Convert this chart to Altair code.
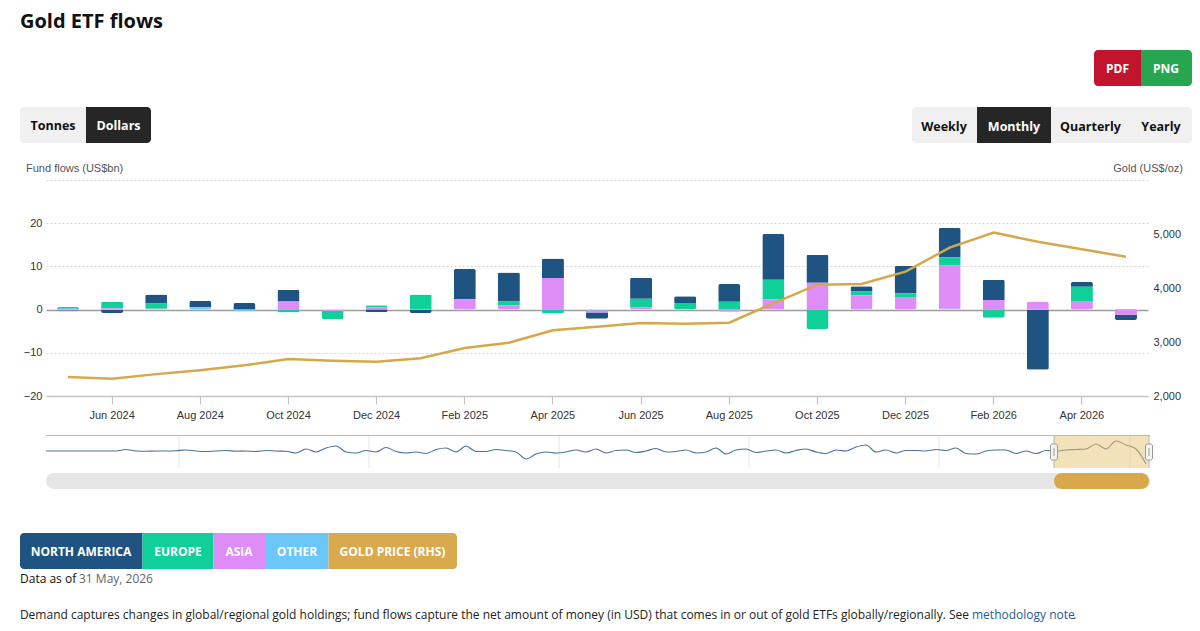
import altair as alt
import pandas as pd

# ---------------- data ----------------
months = ["May 2024", "Jun 2024", "Jul 2024", "Aug 2024", "Sep 2024", "Oct 2024",
          "Nov 2024", "Dec 2024", "Jan 2025", "Feb 2025", "Mar 2025", "Apr 2025",
          "May 2025", "Jun 2025", "Jul 2025", "Aug 2025", "Sep 2025", "Oct 2025",
          "Nov 2025", "Dec 2025", "Jan 2026", "Feb 2026", "Mar 2026", "Apr 2026",
          "May 2026"]
north_america = [-0.2, -0.7, 2.1, 1.4, 1.5, 2.7, 0.0, -0.6, -0.7, 7.0, 6.7, 4.5,
                 -1.4, 4.9, 1.6, 4.1, 10.6, 6.5, 1.2, 6.3, 6.8, 4.7, -13.8, 1.1, -1.2]
europe = [0.4, 1.5, 1.2, 0.1, 0.0, -0.7, -1.9, 0.5, 3.5, 0.0, 0.9, -0.9,
          0.0, 2.0, 1.5, 1.8, 4.5, -4.5, 0.9, 0.9, 1.9, -1.9, 0.0, 3.5, 0.0]
asia = [-0.2, 0.3, 0.2, 0.0, 0.0, 1.9, -0.3, 0.4, 0.0, 2.4, 1.0, 7.3,
        -0.5, 0.5, 0.0, -0.5, 2.3, 6.2, 3.3, 2.8, 10.0, 2.2, 1.8, 1.8, -1.2]
other = [0.2, -0.1, 0.0, 0.5, -0.4, 0.0, 0.0, 0.1, -0.1, 0.0, 0.0, 0.0,
         -0.2, 0.0, 0.0, 0.0, 0.1, 0.0, 0.0, 0.1, 0.2, 0.0, -0.1, 0.0, 0.15]
gold_price = [2352, 2320, 2405, 2475, 2568, 2685, 2654, 2636, 2698, 2889, 2988, 3216,
              3284, 3352, 3340, 3358, 3716, 4062, 4074, 4302, 4747, 5025, 4858, 4716, 4580]
x_tick_labels = ["Jun 2024", "Aug 2024", "Oct 2024", "Dec 2024", "Feb 2025", "Apr 2025",
                 "Jun 2025", "Aug 2025", "Oct 2025", "Dec 2025", "Feb 2026", "Apr 2026"]
left_ticks = [-20, -10, 0, 10, 20, 30]
right_ticks = [2000, 3000, 4000, 5000]

regions = ["North America", "Europe", "Asia", "Other"]
region_colors = ["#1f5381", "#10d09a", "#de8cf6", "#6bc7f9"]
stack_rank = [3, 2, 1, 0]

# navigator (full-history overview line, rough reading)
navigator = [0, 0, 0, 0, 0, 0, 0, 0, 1.5, 0, -0.3, 0, 0, 0.3, 1, 0, -0.5, 0, 0.5, -0.3,
             0, -0.5, 0.5, 0, -0.3, -2, 2, -1, 3, 5, -1, -2, 0.5, -1, 3.5, -0.5, -2, -1,
             -2.5, 1.5, 3, -1, 5, -0.5, -0.5, 1.5, 0.5, -1, -8, -3, -1, -2, -1, 1, -1, 2,
             -2, 0.5, 1, -1.5, 0, 2.5, -1, -0.5, 1, -2, -1, 3, -3, 1, 2, -1.5, 0, 1, -2,
             0.5, 2, -1, -2.5, 1, 0, 4, 6, -1, 1, -2, 0.5, 0.5, 0, 1.5, 0.5, 3, -2.5, -3,
             0, 1, 1, -2.5, 0, -2.5, 0.5, 0, 1, 1.5, 2, 7, 2, 10, 6, 2, -13]
navigator_years = [13.3, 32.3, 51.3, 70.3, 89.3, 108.4]

rows = []
for i, m in enumerate(months):
    for r, vals, rank in zip(regions, [north_america, europe, asia, other], stack_rank):
        rows.append({"month": m, "region": r, "flow": vals[i], "rank": rank})
flows = pd.DataFrame(rows)
gold = pd.DataFrame({"month": months, "gold": gold_price})
nav = pd.DataFrame({"idx": list(range(len(navigator))), "v": navigator})
nav_years = pd.DataFrame({"idx": navigator_years})
dummy = pd.DataFrame({"k": [0]})

# ---------------- layout helpers ----------------
OX, OY = 46, 180  # plot origin on the page
W, H = 1102, 216
CHART_FONT = "Liberation Sans"
PAGE_FONT = "Open Sans"


def box(x1, x2, y1, y2, color, **kw):
    return alt.Chart(dummy).mark_rect(color=color, **kw).encode(
        x=alt.value(x1 - OX), x2=alt.value(x2 - OX),
        y=alt.value(y1 - OY), y2=alt.value(y2 - OY))


def line(x1, x2, y1, y2, color, width=1):
    return alt.Chart(dummy).mark_rule(color=color, strokeWidth=width).encode(
        x=alt.value(x1 - OX), x2=alt.value(x2 - OX),
        y=alt.value(y1 - OY), y2=alt.value(y2 - OY))


def label(x, y, text, size=12, color="#222", weight="normal", align="left", font=PAGE_FONT):
    return alt.Chart(dummy).mark_text(
        text=text, fontSize=size, color=color, fontWeight=weight, align=align,
        baseline="alphabetic", font=font).encode(
        x=alt.value(x - OX), y=alt.value(y - OY))


# ---------------- main chart ----------------
zero_test = "datum.value === 0"
bars = alt.Chart(flows).mark_bar(cornerRadius=2).encode(
    x=alt.X("month:O", sort=months,
            scale=alt.Scale(paddingInner=0.5, paddingOuter=0.25),
            axis=alt.Axis(values=x_tick_labels, title=None, labelAngle=0,
                          labelFont=CHART_FONT, labelFontSize=11, labelColor="#333",
                          domainColor="#c4c4c4", domainWidth=1.5, tickColor="#c4c4c4",
                          tickSize=8, tickWidth=1.2, labelPadding=5, grid=False)),
    y=alt.Y("flow:Q", stack="zero",
            scale=alt.Scale(domain=[-20, 30], nice=False, zero=False),
            axis=alt.Axis(values=left_ticks, title=None,
                          labelExpr="datum.value >= 30 ? '' : datum.label",
                          labelFont=CHART_FONT, labelFontSize=11, labelColor="#333",
                          domain=False, ticks=False, labelPadding=4, grid=True,
                          gridColor={"condition": {"test": zero_test, "value": "#9c9c9c"},
                                     "value": "#d6d6d6"},
                          gridDash={"condition": {"test": zero_test, "value": []},
                                    "value": [2, 2]},
                          gridWidth={"condition": {"test": zero_test, "value": 1.6},
                                     "value": 1})),
    color=alt.Color("region:N", scale=alt.Scale(domain=regions, range=region_colors),
                    legend=None),
    order=alt.Order("rank:Q", sort="ascending"),
)

gold_line = alt.Chart(gold).mark_line(color="#d5a84b", strokeWidth=2.5).encode(
    x=alt.X("month:O", sort=months),
    y=alt.Y("gold:Q", scale=alt.Scale(domain=[2000, 6000], nice=False, zero=False),
            axis=alt.Axis(orient="right", values=right_ticks, title=None,
                          labelExpr="format(datum.value, ',')",
                          labelFont=CHART_FONT, labelFontSize=11, labelColor="#333",
                          domain=False, ticks=False, grid=False, labelPadding=5)),
)

main = alt.layer(bars, gold_line).resolve_scale(y="independent")

# ---------------- navigator ----------------
nav_x = alt.Scale(domain=[0, len(navigator) - 1], range=[0, 1100], nice=False, zero=False)
nav_grid = alt.Chart(nav_years).mark_rule(color="#e6e6e6", strokeWidth=1).encode(
    x=alt.X("idx:Q", scale=nav_x, axis=None),
    y=alt.value(436 - OY), y2=alt.value(468 - OY))
nav_line = alt.Chart(nav).mark_line(color="#4c729a", strokeWidth=1.1,
                                    interpolate="monotone").encode(
    x=alt.X("idx:Q", scale=nav_x, axis=None),
    y=alt.Y("v:Q", scale=alt.Scale(domain=[-15, 16], range=[466 - OY, 435 - OY],
                                   nice=False, zero=False), axis=None))
navigator_chart = alt.layer(nav_grid, nav_line)

# ---------------- page decorations ----------------
decor = [
    label(20, 28, "Gold ETF flows", size=20, color="#111", weight="bold"),
    # export buttons
    box(1094, 1141, 50, 86, "#c2142c", cornerRadiusTopLeft=4, cornerRadiusBottomLeft=4),
    box(1141, 1192, 50, 86, "#27a64f", cornerRadiusTopRight=4, cornerRadiusBottomRight=4),
    label(1117.5, 73, "PDF", size=12, color="white", weight="bold", align="center"),
    label(1166, 73, "PNG", size=12, color="white", weight="bold", align="center"),
    # unit toggle
    box(20, 86, 107, 143, "#f0f0f0", cornerRadiusTopLeft=4, cornerRadiusBottomLeft=4),
    box(86, 151, 107, 143, "#262626", cornerRadiusTopRight=4, cornerRadiusBottomRight=4),
    label(53, 130, "Tonnes", size=12.5, color="#111", weight="bold", align="center"),
    label(118.5, 130, "Dollars", size=12.5, color="white", weight="bold", align="center"),
    # frequency toggle
    box(912, 1192, 107, 143, "#f0f0f0", cornerRadius=4),
    box(977, 1051, 107, 143, "#262626"),
    label(944, 130.5, "Weekly", size=12.5, color="#111", weight="bold", align="center"),
    label(1014, 130.5, "Monthly", size=12.5, color="white", weight="bold", align="center"),
    label(1090.5, 130.5, "Quarterly", size=12.5, color="#111", weight="bold", align="center"),
    label(1161, 130.5, "Yearly", size=12.5, color="#111", weight="bold", align="center"),
    # axis titles
    label(26, 172, "Fund flows (US$bn)", size=11, color="#555", font=CHART_FONT),
    label(1183, 172, "Gold (US$/oz)", size=11, color="#555", align="right", font=CHART_FONT),
    # legend
    box(20, 142.5, 533, 569, region_colors[0], cornerRadiusTopLeft=4, cornerRadiusBottomLeft=4),
    box(142.5, 213.5, 533, 569, region_colors[1]),
    box(213.5, 265, 533, 569, region_colors[2]),
    box(265, 328.5, 533, 569, region_colors[3]),
    box(328.5, 457, 533, 569, "#d8a94d", cornerRadiusTopRight=4, cornerRadiusBottomRight=4),
    label(81, 555.5, "NORTH AMERICA", size=12, color="white", weight="bold", align="center"),
    label(178, 555.5, "EUROPE", size=12, color="white", weight="bold", align="center"),
    label(239, 555.5, "ASIA", size=12, color="white", weight="bold", align="center"),
    label(297, 555.5, "OTHER", size=12, color="white", weight="bold", align="center"),
    label(392.5, 555.5, "GOLD PRICE (RHS)", size=12, color="white", weight="bold", align="center"),
    label(20, 583, "Data as of", size=12, color="#111"),
    label(79, 583, "31 May, 2026", size=12, color="#666"),
    label(969, 619, "Demand captures changes in global/regional gold holdings; fund flows capture "
                    "the net amount of money (in USD) that comes in or out of gold ETFs "
                    "globally/regionally. See", size=12, color="#222", align="right"),
    label(972, 619, "methodology note", size=12, color="#1d5c99"),
    label(1073, 619, ".", size=12, color="#222"),
]

nav_decor = [
    box(1054, 1149, 436, 468, "#e6c373", opacity=0.5),
    line(46, 1150, 435.5, 435.5, "#b8b8b8"),
    line(1054, 1054, 435.5, 468, "#b8b8b8"),
    line(1149, 1149, 435.5, 468, "#b8b8b8"),
    box(1050.5, 1057.5, 444, 460, "#f4f4f4", stroke="#999999", strokeWidth=1, cornerRadius=2),
    box(1145.5, 1152.5, 444, 460, "#f4f4f4", stroke="#999999", strokeWidth=1, cornerRadius=2),
    line(1054, 1054, 448, 456, "#999999"),
    line(1149, 1149, 448, 456, "#999999"),
    # scrollbar
    box(46, 1150, 473, 489, "#e6e6e6", cornerRadius=8),
    box(1054, 1149, 473, 489, "#d8a84a", cornerRadius=8),
]

chart = alt.layer(
    *decor, main, navigator_chart, *nav_decor
).resolve_scale(
    x="independent", y="independent"
).properties(
    width=W, height=H,
    autosize=alt.AutoSizeParams(type="none"),
    padding={"left": OX - 8, "top": OY - 8, "right": 1184 - (OX - 8) - W, "bottom": 615 - (OY - 8) - H},
).configure_view(strokeWidth=0)

chart.save("out.html", embed_options={"renderer": "svg", "actions": False})
